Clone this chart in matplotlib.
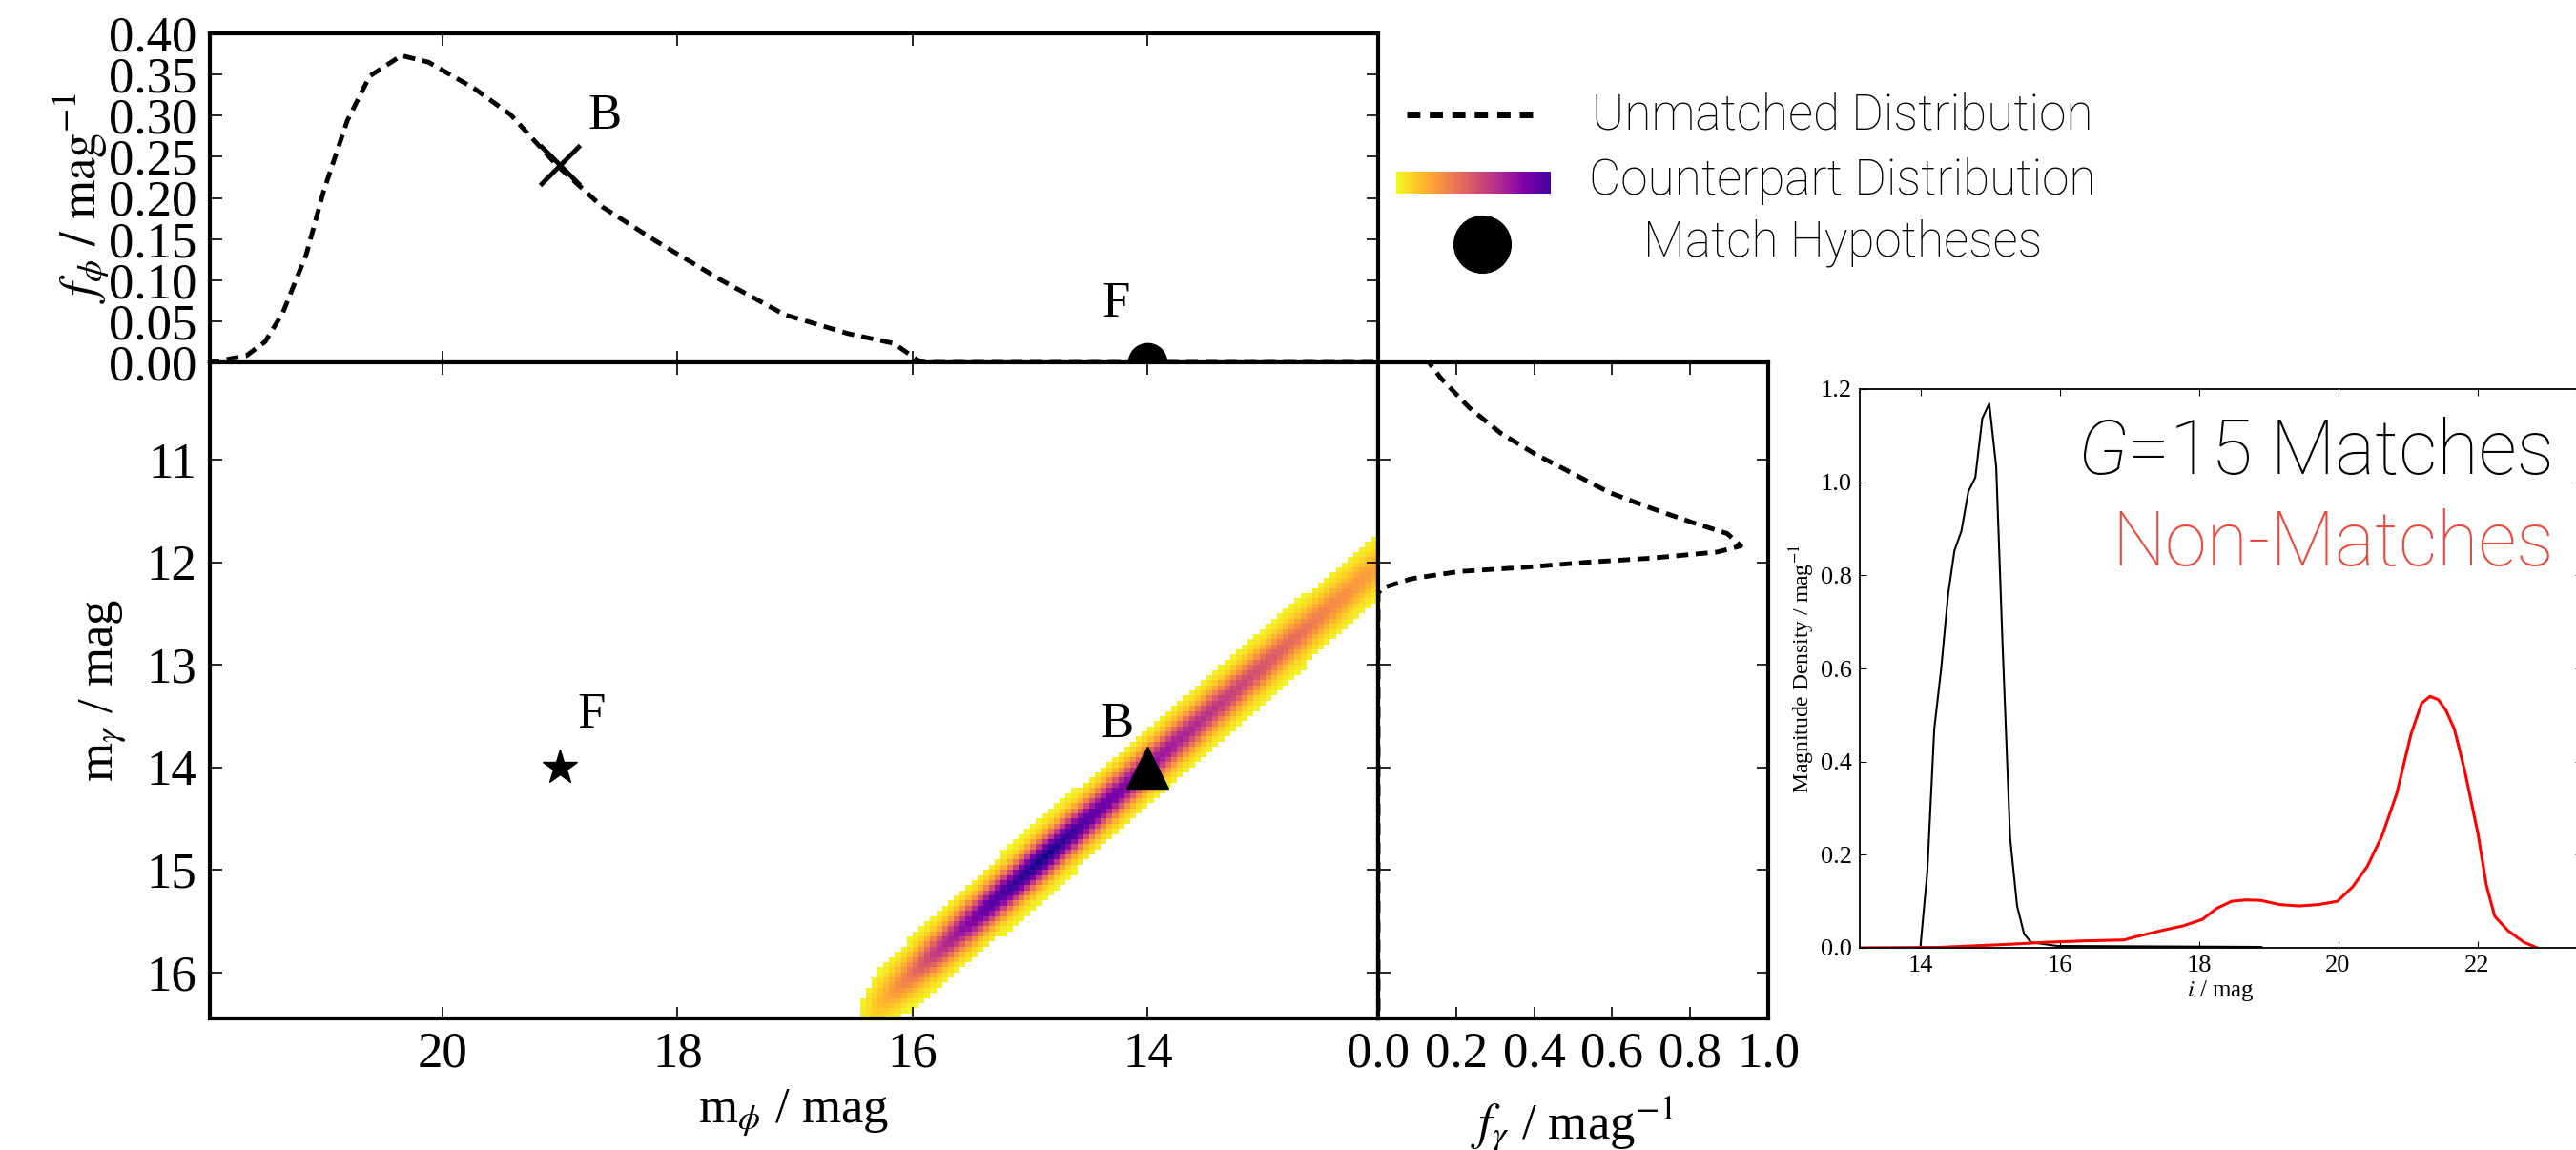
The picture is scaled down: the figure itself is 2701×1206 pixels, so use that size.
import numpy as np
import matplotlib.pyplot as plt

# ---- data ----
# unmatched distribution of m_phi (top marginal)
phi_mag = [22.0, 21.90, 21.67, 21.51, 21.36, 21.16, 21.01, 20.81, 20.62, 20.35, 20.12,
           19.73, 19.42, 19.03, 18.64, 18.18, 17.63, 17.09, 16.55, 16.16, 15.96, 15.90, 12.0]
phi_f = [0.0, 0.002, 0.008, 0.025, 0.06, 0.131, 0.209, 0.294, 0.348, 0.373, 0.365,
         0.333, 0.301, 0.240, 0.189, 0.147, 0.100, 0.058, 0.035, 0.023, 0.003, 0.0, 0.0]

# unmatched distribution of m_gamma (right marginal)
gam_mag = [10.0, 10.20, 10.49, 10.74, 10.95, 11.14, 11.32, 11.47, 11.61, 11.72, 11.84,
           11.90, 11.96, 12.00, 12.05, 12.09, 12.16, 12.25, 12.30, 16.5]
gam_f = [0.12, 0.16, 0.233, 0.314, 0.405, 0.502, 0.593, 0.698, 0.804, 0.895, 0.93,
         0.87, 0.70, 0.535, 0.372, 0.208, 0.086, 0.012, 0.0, 0.0]

# counterpart distribution: ridge along m_gamma = m_phi
band_mag = [12.0, 12.5, 13.0, 13.5, 14.0, 14.5, 14.85, 15.0, 15.36, 15.8, 16.08, 16.28, 16.4, 16.5]
band_peak = [0.2, 0.3, 0.45, 0.58, 0.7, 0.85, 1.0, 0.97, 0.85, 0.55, 0.3, 0.15, 0.05, 0.0]
band_sigma = 0.14
band_floor = 0.015
band_step = 0.05

# match hypotheses (m_phi, m_gamma)
hyp_names = ["B", "F"]
hyp_phi = [19.0, 14.0]
hyp_gam = [14.0, 19.0]

# inset: G=15 matches and non-matches
match_mag = [14.0, 14.10, 14.20, 14.30, 14.40, 14.49, 14.59, 14.69, 14.79, 14.89, 14.99,
             15.09, 15.18, 15.29, 15.39, 15.49, 15.59, 15.97, 18.9]
match_dens = [0.0, 0.163, 0.47, 0.60, 0.76, 0.853, 0.895, 0.98, 1.01, 1.137, 1.169,
              1.033, 0.657, 0.236, 0.09, 0.03, 0.012, 0.004, 0.002]
non_mag = [13.13, 14.27, 15.33, 15.81, 16.37, 16.93, 17.07, 17.49, 17.77, 18.05, 18.26,
           18.47, 18.68, 18.89, 19.16, 19.44, 19.72, 19.99, 20.21, 20.42, 20.63, 20.84,
           21.05, 21.2, 21.32, 21.44, 21.55, 21.67, 21.82, 22.01, 22.13, 22.25, 22.44,
           22.67, 22.86]
non_dens = [0.0, 0.001, 0.008, 0.012, 0.015, 0.017, 0.023, 0.038, 0.047, 0.061, 0.085,
            0.10, 0.103, 0.102, 0.093, 0.09, 0.093, 0.10, 0.131, 0.175, 0.24, 0.33,
            0.46, 0.525, 0.54, 0.533, 0.51, 0.47, 0.38, 0.245, 0.135, 0.068, 0.037,
            0.012, 0.0]

legend_labels = ["Unmatched Distribution", "Counterpart Distribution", "Match Hypotheses"]

plt.rcParams.update({
    "font.family": "serif",
    "font.serif": ["Liberation Serif", "DejaVu Serif"],
    "mathtext.fontset": "stix",
    "xtick.direction": "in",
    "ytick.direction": "in",
})

W, H = 2701, 1206
fig = plt.figure(figsize=(W / 100, H / 100), dpi=100)


def box(x0, y0, x1, y1):
    return [x0 / W, 1 - y1 / H, (x1 - x0) / W, (y1 - y0) / H]


ax_top = fig.add_axes(box(220, 35, 1445, 380))
ax_main = fig.add_axes(box(220, 380, 1445, 1068))
ax_side = fig.add_axes(box(1445, 380, 1854, 1068))
ax_leg = fig.add_axes(box(1445, 35, 2300, 380))
ax_in = fig.add_axes(box(1950, 408, 2707, 994))

dash = (0, (2.6, 1.6))
big = 38
sans = ["Roboto", "DejaVu Sans"]
xlim_phi = (21.98, 12.04)
ylim_gam = (16.45, 10.05)

for ax in (ax_top, ax_main, ax_side):
    for s in ax.spines.values():
        s.set_linewidth(3)
    ax.tick_params(which="both", top=True, right=True, length=9, width=1.2,
                   labelsize=big, pad=10)

# top marginal
ax_top.plot(phi_mag, phi_f, color="k", ls=dash, lw=3.5)
ax_top.plot(hyp_phi[0], 0.24, "kx", ms=30, mew=3.5)
ax_top.plot(hyp_gam[0], 0.0, "ko", ms=29)
ax_top.annotate(hyp_names[0], (hyp_phi[0], 0.24), xytext=(34, 37), textcoords="offset points",
                ha="center", va="center", fontsize=big)
ax_top.annotate(hyp_names[1], (hyp_gam[0], 0.0), xytext=(-24, 44), textcoords="offset points",
                ha="center", va="center", fontsize=big)
ax_top.set_xlim(*xlim_phi)
ax_top.set_ylim(0, 0.4)
ax_top.set_xticks([20, 18, 16, 14])
ax_top.set_xticklabels([])
ax_top.set_yticks(np.arange(0, 0.401, 0.05))
ax_top.set_yticklabels([f"{v:.2f}" for v in np.arange(0, 0.401, 0.05)])
ax_top.set_ylabel(r"$f_\phi\ /\ \mathrm{mag}^{-1}$", fontsize=big)
ax_top.yaxis.set_label_coords(-0.085, 0.5)

# main panel: counterpart density
phi_edges = np.arange(12.0, 22.0 + band_step / 2, band_step)
gam_edges = np.arange(10.0, 16.5 + band_step / 2, band_step)
PHI, GAM = np.meshgrid(phi_edges[:-1] + band_step / 2, gam_edges[:-1] + band_step / 2)
amp = np.interp(PHI, band_mag, band_peak, left=0, right=0)
dens = amp * np.exp(-0.5 * ((GAM - PHI) / band_sigma) ** 2)
dens = np.ma.masked_less(dens, band_floor)
ax_main.pcolormesh(phi_edges, gam_edges, dens, cmap="plasma_r", vmin=0, vmax=1)

ax_main.plot(hyp_gam[0], hyp_gam[0], "k^", ms=32)
ax_main.plot(hyp_phi[0], hyp_gam[0], "k*", ms=27)
ax_main.annotate(hyp_names[0], (hyp_gam[0], hyp_gam[0]), xytext=(-23, 32), textcoords="offset points",
                 ha="center", va="center", fontsize=big)
ax_main.annotate(hyp_names[1], (hyp_phi[0], hyp_gam[0]), xytext=(24, 39), textcoords="offset points",
                 ha="center", va="center", fontsize=big)
ax_main.set_xlim(*xlim_phi)
ax_main.set_ylim(*ylim_gam)
ax_main.set_xticks([20, 18, 16, 14])
ax_main.set_yticks([11, 12, 13, 14, 15, 16])
ax_main.set_xlabel(r"m$_\phi$ / mag", fontsize=big)
ax_main.set_ylabel(r"m$_\gamma$ / mag", fontsize=big)
ax_main.xaxis.set_label_coords(0.5, -0.105)
ax_main.yaxis.set_label_coords(-0.07, 0.5)

# right marginal
ax_side.plot(gam_f, gam_mag, color="k", ls=dash, lw=3.5)
ax_side.set_xlim(0, 1.0)
ax_side.set_ylim(*ylim_gam)
ax_side.set_xticks(np.arange(0, 1.01, 0.2))
ax_side.set_xticklabels([f"{v:.1f}" for v in np.arange(0, 1.01, 0.2)])
ax_side.set_yticks([11, 12, 13, 14, 15, 16])
ax_side.set_yticklabels([])
ax_side.set_xlabel(r"$f_\gamma$ / mag$^{-1}$", fontsize=big)
ax_side.xaxis.set_label_coords(0.5, -0.115)

# legend (drawn by hand so the text can sit centred)
ax_leg.axis("off")
ax_leg.plot([1475, 1612], [120, 120], color="k", ls=(0, (2.0, 1.4)), lw=5)
ax_leg.imshow(np.linspace(0, 0.9, 256)[None, :], cmap="plasma_r", vmin=0, vmax=1,
              extent=(1464, 1626, 203, 180), aspect="auto")
ax_leg.plot([1554], [256], "ko", ms=43)
for ty, lab in zip([122, 190, 255], legend_labels):
    ax_leg.text(1932, ty, lab, ha="center", va="center", fontsize=37,
                family=sans, fontweight="light")
ax_leg.set_xlim(1445, 2300)
ax_leg.set_ylim(380, 35)

# inset
ax_in.plot(match_mag, match_dens, color="k", lw=1.5)
ax_in.plot(non_mag, non_dens, color="red", lw=2.2)
ax_in.set_xlim(13.13, 23.5)
ax_in.set_ylim(0, 1.2)
ax_in.set_xticks([14, 16, 18, 20, 22])
ax_in.set_yticks(np.arange(0, 1.21, 0.2))
ax_in.set_yticklabels([f"{v:.1f}" for v in np.arange(0, 1.21, 0.2)])
ax_in.tick_params(which="both", top=True, right=True, length=5, width=0.8,
                  labelsize=19, pad=6)
for s in ax_in.spines.values():
    s.set_linewidth(1.3)
ax_in.set_ylabel(r"Magnitude Density / mag$^{-1}$", fontsize=17)
ax_in.set_xlabel(r"$i$ / mag", fontsize=18)
ax_in.yaxis.set_label_coords(-0.06, 0.5)
ax_in.xaxis.set_label_coords(0.5, -0.055)

t1 = ax_in.text(0.9617, 0.848, "=15 Matches", transform=ax_in.transAxes, ha="right",
                va="baseline", fontsize=57, family=sans, fontweight="light", color="k")
ax_in.annotate("G", xy=(0, 0), xycoords=t1, ha="right", va="bottom", fontsize=57,
               family=sans, fontweight="light", style="italic", color="k")
ax_in.text(0.9617, 0.684, "Non-Matches", transform=ax_in.transAxes, ha="right",
           va="baseline", fontsize=57, family=sans, fontweight="light", color="#ea4a3d")

fig.savefig("out.png", dpi=100, facecolor="white")
